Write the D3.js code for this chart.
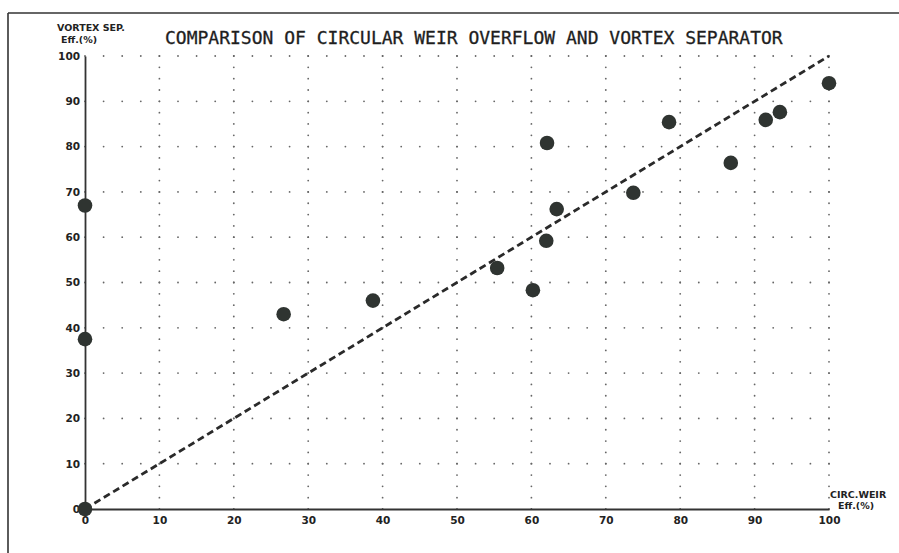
<!DOCTYPE html>
<html lang="en">
<head>
    <meta charset="UTF-8">
    <title>Comparison of Circular Weir Overflow and Vortex Separator</title>
    <script src="https://d3js.org/d3.v7.min.js"></script>
    <style>
        body { margin: 0; background: #fff; }
        .title { font-family: "DejaVu Sans Mono", monospace; font-size: 18px; fill: #1e1e1e; stroke: #1e1e1e; stroke-width: 0.3px; }
        .lbl { font-family: "DejaVu Sans", sans-serif; font-size: 9.5px; font-weight: bold; fill: #222; }
        .tick-lbl { font-family: "DejaVu Sans", sans-serif; font-size: 10.5px; font-weight: bold; fill: #222; }
    </style>
</head>
<body>
    <svg id="chart" width="899" height="553"></svg>

    <script>
        // circular weir efficiency (%) vs vortex separator efficiency (%)
        var weirEff   = [0, 0, 0, 26.7, 38.7, 55.4, 60.2, 62.0, 63.4, 62.1, 73.7, 78.5, 86.8, 91.5, 93.4, 100];
        var vortexEff = [0, 67, 37.5, 43, 46, 53.2, 48.3, 59.2, 66.2, 80.8, 69.8, 85.4, 76.4, 85.9, 87.6, 94];
        var tickValues = [0, 10, 20, 30, 40, 50, 60, 70, 80, 90, 100];

        var svg = d3.select("#chart");
        var plotLeft = 85, plotTop = 56, plotRight = 829, plotBottom = 509;

        var x = d3.scaleLinear().domain([0, 100]).range([plotLeft, plotRight]);
        var y = d3.scaleLinear().domain([0, 100]).range([plotBottom, plotTop]);

        // page border (scanned sheet)
        svg.append("line").attr("x1", 8).attr("x2", 899).attr("y1", 13).attr("y2", 13)
            .attr("stroke", "#333").attr("stroke-width", 1.6);
        svg.append("line").attr("x1", 8).attr("x2", 8).attr("y1", 13).attr("y2", 553)
            .attr("stroke", "#333").attr("stroke-width", 1.6);

        // dotted grid: dots every 2.5 units along each gridline
        var steps = d3.range(0, 100.01, 2.5);
        var grid = svg.append("g").attr("fill", "#666");
        tickValues.slice(1).forEach(function (v) {
            steps.forEach(function (s) {
                grid.append("circle").attr("cx", x(v)).attr("cy", y(s)).attr("r", 0.9);
                grid.append("circle").attr("cx", x(s)).attr("cy", y(v)).attr("r", 0.9);
            });
        });

        // axes
        var xAxis = svg.append("g")
            .attr("transform", "translate(0," + plotBottom + ")")
            .call(d3.axisBottom(x).tickValues(tickValues).tickSize(0).tickPadding(8));
        var yAxis = svg.append("g")
            .attr("transform", "translate(" + plotLeft + ",0)")
            .call(d3.axisLeft(y).tickValues(tickValues).tickSize(0).tickPadding(5));
        [xAxis, yAxis].forEach(function (a) {
            a.select(".domain").attr("stroke", "#333").attr("stroke-width", 1.8);
            a.selectAll("text").attr("class", "tick-lbl");
        });
        xAxis.attr("font-family", null).attr("font-size", null);
        yAxis.attr("font-family", null).attr("font-size", null);

        // 1:1 line
        svg.append("line")
            .attr("x1", x(0)).attr("y1", y(0)).attr("x2", x(100)).attr("y2", y(100))
            .attr("stroke", "#2a2a2a").attr("stroke-width", 2.8).attr("stroke-dasharray", "7,4");

        // points
        svg.selectAll(".pt")
            .data(weirEff)
            .enter().append("circle")
            .attr("class", "pt")
            .attr("cx", function (d) { return x(d); })
            .attr("cy", function (d, i) { return y(vortexEff[i]); })
            .attr("r", 7.3)
            .attr("fill", "#2f3431");

        // titles and axis labels
        svg.append("text").attr("class", "title").attr("x", 165).attr("y", 44)
            .text("COMPARISON OF CIRCULAR WEIR OVERFLOW AND VORTEX SEPARATOR");
        svg.append("text").attr("class", "lbl").attr("x", 57).attr("y", 31).text("VORTEX SEP.");
        svg.append("text").attr("class", "lbl").attr("x", 61).attr("y", 43).text("Eff.(%)");
        svg.append("text").attr("class", "lbl").attr("x", 830).attr("y", 498).text("CIRC.WEIR");
        svg.append("text").attr("class", "lbl").attr("x", 838).attr("y", 509).text("Eff.(%)");
    </script>
</body>
</html>
